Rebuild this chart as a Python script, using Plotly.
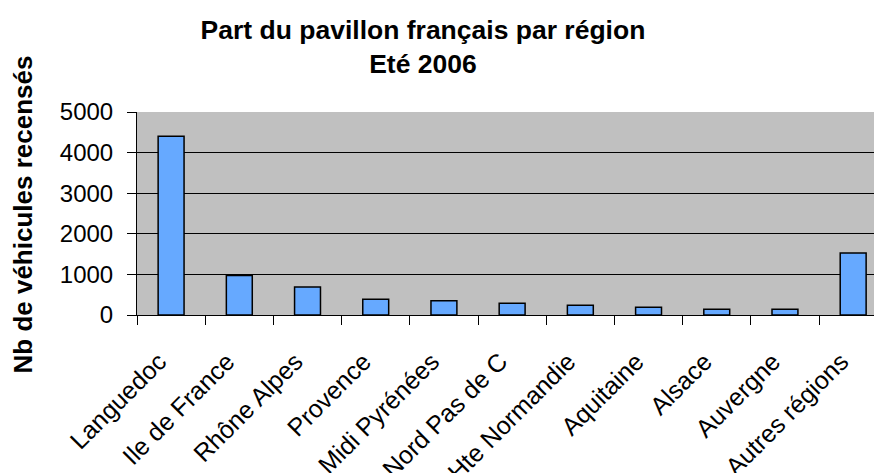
import plotly.graph_objects as go

regions = ["Languedoc", "Ile de France", "Rhône Alpes", "Provence", "Midi Pyrénées",
           "Nord Pas de C", "Hte Normandie", "Aquitaine", "Alsace", "Auvergne", "Autres régions"]
vehicules = [4400, 970, 690, 390, 350, 290, 240, 190, 140, 140, 1530]
y_ticks = [0, 1000, 2000, 3000, 4000, 5000]

FONT = "Liberation Sans, Arial, sans-serif"

fig = go.Figure(go.Bar(
    x=regions, y=vehicules,
    marker=dict(color="#66A9FF", line=dict(color="black", width=1.5)),
))

fig.update_layout(
    width=882, height=473,
    margin=dict(l=129, r=0, t=104, b=166, autoexpand=False),
    paper_bgcolor="white", plot_bgcolor="#C0C0C0",
    bargap=0.62, showlegend=False,
    font=dict(family=FONT, color="black", size=24),
    title=dict(text="Part du pavillon français par région<br>Eté 2006",
               x=0.4705, xref="container", xanchor="center",
               y=0.935, yref="container", yanchor="top",
               font=dict(family=FONT, size=26.5, weight="bold", color="black")),
    annotations=[dict(
        text="Nb de véhicules recensés", textangle=-90,
        xref="paper", yref="paper",
        x=(14.5 - 129) / 753, y=1 - (207 - 104) / 203,
        xanchor="center", yanchor="middle", showarrow=False,
        font=dict(family=FONT, size=26, weight="bold", color="black"),
    )],
)

fig.update_xaxes(
    type="category", range=[-0.5, 10.54],
    tickangle=-45, tickson="boundaries", ticks="outside", ticklen=9,
    tickcolor="black", tickwidth=1, ticklabelstandoff=21, ticklabelshift=-12,
    showline=True, linecolor="black", linewidth=1, showgrid=False,
    tickfont=dict(size=25, family=FONT, color="black"),
    automargin=False,
)
fig.update_yaxes(
    range=[0, 5000], tickvals=y_ticks, ticktext=[str(v) for v in y_ticks],
    ticks="outside", ticklen=9, tickcolor="black", tickwidth=1,
    ticklabelstandoff=9,
    showline=True, linecolor="black", linewidth=1,
    showgrid=True, gridcolor="black", gridwidth=1,
    zeroline=True, zerolinecolor="black", zerolinewidth=1,
    tickfont=dict(size=24, family=FONT, color="black"),
    automargin=False,
)

fig.write_html("out.html")
